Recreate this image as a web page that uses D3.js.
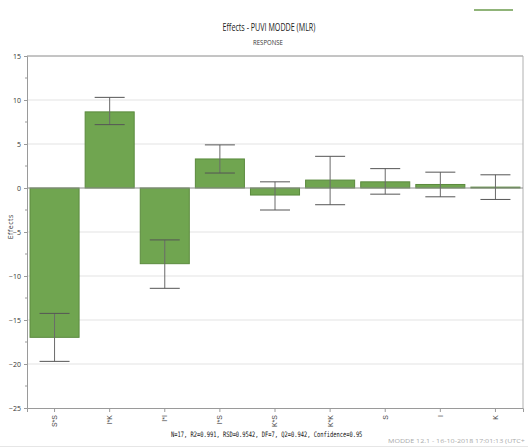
<!DOCTYPE html>
<html>
<head>
<meta charset="utf-8">
<script src="https://cdn.jsdelivr.net/npm/d3@7"></script>
<style>
  body { margin: 0; background: #fff; }
  svg { display: block; }
</style>
</head>
<body>
<div id="chart"></div>
<script>
var terms = ["S*S", "I*K", "I*I", "I*S", "K*S", "K*K", "S", "I", "K"];
var effects = [-16.97, 8.65, -8.6, 3.3, -0.8, 0.9, 0.7, 0.4, 0.1];
var errLow = [-19.7, 7.2, -11.4, 1.7, -2.5, -1.9, -0.7, -1.0, -1.3];
var errHigh = [-14.25, 10.3, -5.9, 4.9, 0.7, 3.6, 2.2, 1.8, 1.5];
var yTicks = [15, 10, 5, 0, -5, -10, -15, -20, -25];

var width = 528, height = 448;
var margin = { top: 56, right: 5, bottom: 40, left: 27 };
var inner_w = width - margin.left - margin.right,
  inner_h = height - margin.top - margin.bottom;

var svg = d3.select("#chart").append("svg")
  .attr("width", width)
  .attr("height", height)
  .style("font-family", "'Open Sans', sans-serif");

// squeeze a text horizontally so it spans the wanted width
function squeezed(xpos, ypos, w, anchor, txt, size, fam, col) {
  var t = svg.append("text")
    .attr("text-anchor", anchor)
    .style("font-size", size)
    .style("fill", col)
    .text(txt);
  if (fam) t.style("font-family", fam);
  var k = w / t.node().getComputedTextLength();
  t.attr("transform", "translate(" + xpos + "," + ypos + ") scale(" + k + ",1)");
  return t;
}

// legend line top right
svg.append("line")
  .attr("x1", 474).attr("x2", 513)
  .attr("y1", 10).attr("y2", 10)
  .attr("stroke", "#6b9b4c").attr("stroke-width", 1.5);

squeezed(269, 31, 93, "middle", "Effects - PUVI MODDE (MLR)", "10.5px", null, "#222");
squeezed(268, 45, 30, "middle", "RESPONSE", "6.5px", null, "#333");

var g = svg.append("g")
  .attr("transform", "translate(" + margin.left + "," + margin.top + ")");

var x = d3.scaleBand()
  .domain(terms)
  .range([0, inner_w])
  .paddingInner(0.11)
  .paddingOuter(0.055);

var y = d3.scaleLinear()
  .domain([-25, 15])
  .range([inner_h, 0]);

// grid lines
g.selectAll(".grid")
  .data(yTicks.filter(function(d) { return d != 15 && d != -25 && d != 0; }))
  .enter().append("line")
  .attr("x1", 0).attr("x2", inner_w)
  .attr("y1", function(d) { return y(d); })
  .attr("y2", function(d) { return y(d); })
  .attr("stroke", "#e3e3e3");

// frame top and right
g.append("line").attr("x1", 0).attr("x2", inner_w).attr("y1", 0).attr("y2", 0)
  .attr("stroke", "#8a8a8a");
g.append("line").attr("x1", inner_w).attr("x2", inner_w).attr("y1", 0).attr("y2", inner_h)
  .attr("stroke", "#b0b0b0");

// bars
g.selectAll(".bar")
  .data(terms)
  .enter().append("rect")
  .attr("x", function(d) { return x(d); })
  .attr("y", function(d, i) { return y(Math.max(0, effects[i])); })
  .attr("width", x.bandwidth())
  .attr("height", function(d, i) { return Math.abs(y(effects[i]) - y(0)); })
  .attr("fill", "#70a550")
  .attr("stroke", "#5b8a3e")
  .attr("stroke-width", 1);

// zero line
g.append("line")
  .attr("x1", 0).attr("x2", inner_w)
  .attr("y1", y(0)).attr("y2", y(0))
  .attr("stroke", "#8c8c8c");

// error bars
var capW = 15;
var eb = g.selectAll(".err")
  .data(terms)
  .enter().append("g")
  .attr("transform", function(d) { return "translate(" + (x(d) + x.bandwidth() / 2) + ",0)"; });

eb.append("line")
  .attr("x1", 0).attr("x2", 0)
  .attr("y1", function(d, i) { return y(errLow[i]); })
  .attr("y2", function(d, i) { return y(errHigh[i]); })
  .attr("stroke", "#6a6a6a");
eb.append("line")
  .attr("x1", -capW).attr("x2", capW)
  .attr("y1", function(d, i) { return y(errLow[i]); })
  .attr("y2", function(d, i) { return y(errLow[i]); })
  .attr("stroke", "#555");
eb.append("line")
  .attr("x1", -capW).attr("x2", capW)
  .attr("y1", function(d, i) { return y(errHigh[i]); })
  .attr("y2", function(d, i) { return y(errHigh[i]); })
  .attr("stroke", "#555");

// y axis
var yAxis = d3.axisLeft(y)
  .tickValues(yTicks)
  .tickSize(3)
  .tickFormat(d3.format("d"));
var ya = g.append("g").attr("class", "y axis").call(yAxis);
ya.select(".domain").attr("stroke", "#9a9a9a");
ya.selectAll(".tick line").attr("stroke", "#9a9a9a");
ya.selectAll("text").style("font-size", "7px").style("fill", "#333")
  .style("font-family", "'Liberation Sans Narrow', 'Open Sans', sans-serif");

// minor ticks
g.selectAll(".minor")
  .data(yTicks.slice(0, -1).map(function(d) { return d - 2.5; }))
  .enter().append("line")
  .attr("x1", -2).attr("x2", 0)
  .attr("y1", function(d) { return y(d); })
  .attr("y2", function(d) { return y(d); })
  .attr("stroke", "#9a9a9a");

// x axis
var xAxis = d3.axisBottom(x).tickSize(4);
var xa = g.append("g")
  .attr("class", "x axis")
  .attr("transform", "translate(0," + inner_h + ")")
  .call(xAxis);
xa.select(".domain").attr("stroke", "#9a9a9a");
xa.selectAll(".tick line").attr("stroke", "#9a9a9a");
xa.selectAll("text")
  .attr("transform", "rotate(-90)")
  .attr("x", -7).attr("y", 0).attr("dy", "0.35em")
  .attr("text-anchor", "end")
  .style("font-size", "7px").style("fill", "#444");

// y label
svg.append("text")
  .attr("transform", "translate(13," + (margin.top + y(-4.4)) + ") rotate(-90)")
  .attr("text-anchor", "middle")
  .style("font-size", "7px").style("fill", "#333")
  .style("letter-spacing", "0.5px")
  .text("Effects");

// stats line
squeezed(171, 437, 192, "start", "N=17, R2=0.991, RSD=0.9542, DF=7, Q2=0.942, Confidence=0.95",
  "7.5px", "'DejaVu Sans Mono', monospace", "#111");

// footer
svg.append("line")
  .attr("x1", 0).attr("x2", width)
  .attr("y1", 446.5).attr("y2", 446.5)
  .attr("stroke", "#e6e6e6");
squeezed(388, 443, 137, "start", "MODDE 12.1 - 16-10-2018 17:01:13 (UTC+", "6px", null, "#aaa");
</script>
</body>
</html>
